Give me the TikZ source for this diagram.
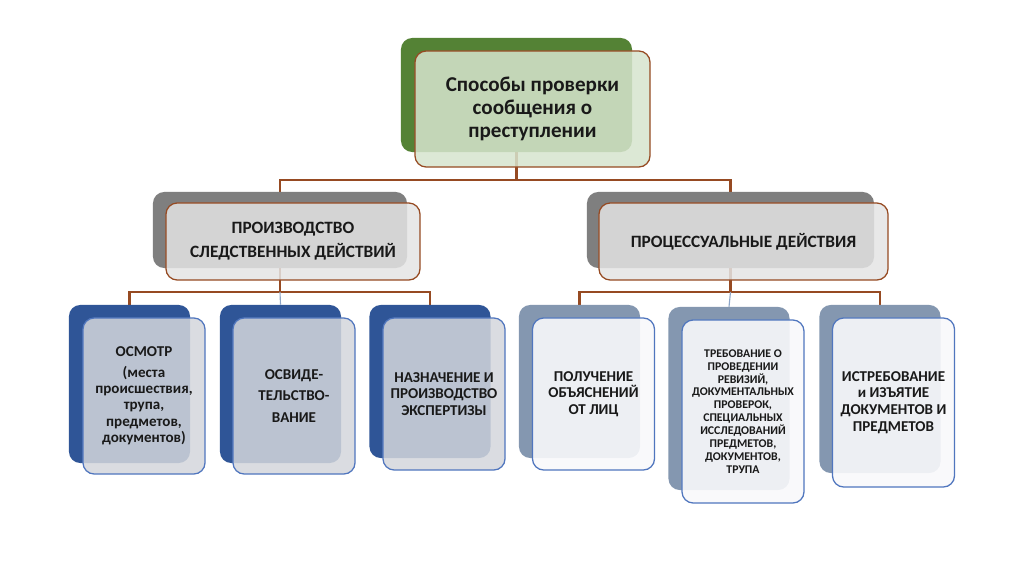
\documentclass[tikz,border=0pt]{standalone}
\usepackage{fontspec}
\setmainfont{Carlito}
\definecolor{leafgreen}{RGB}{84,130,53}
\definecolor{leaffill}{RGB}{215,229,206}
\definecolor{stonegray}{RGB}{127,127,127}
\definecolor{stonefill}{RGB}{228,228,228}
\definecolor{navyback}{RGB}{47,85,151}
\definecolor{navyfill}{RGB}{212,215,220}
\definecolor{slateback}{RGB}{132,151,176}
\definecolor{slatefill}{RGB}{249,249,251}
\definecolor{rustline}{RGB}{150,74,34}
\definecolor{blueline}{RGB}{80,118,190}
\definecolor{paleline}{RGB}{140,165,200}
\pgfdeclarelayer{links}
\pgfdeclarelayer{backs}
\pgfsetlayers{links,backs,main}
\begin{document}
\begin{tikzpicture}[x=0.025cm,y=-0.025cm,
  back/.style={rounded corners=8pt,inner sep=0pt},
  front/.style={draw,rounded corners=8pt,line width=0.9pt,align=center,font=\bfseries,text=black!90,text opacity=1,inner sep=2pt},
  kid/.style={front,draw=blueline,minimum width=3.05cm},
  kidback/.style={back,minimum width=3.025cm},
  link/.style={draw=rustline,line width=1.6pt},
  midlink/.style={draw=paleline,line width=0.8pt}]
\begin{pgfonlayer}{links}
\fill[white] (0,0) rectangle (1024,574);
\end{pgfonlayer}
\useasboundingbox (0,0) rectangle (1024,574);

\begin{pgfonlayer}{backs}
\node[back,fill=leafgreen,minimum width=5.775cm,minimum height=2.85cm] (topb) at (516.5,95) {};
\node[back,fill=stonegray,minimum width=6.35cm,minimum height=1.9cm] (sdb) at (280,230) {};
\node[back,fill=stonegray,minimum width=7.175cm,minimum height=1.9cm] (pdb) at (730.5,230) {};
\node[kidback,fill=navyback,minimum height=3.95cm] (c1b) at (129.5,384) {};
\node[kidback,fill=navyback,minimum height=3.95cm] (c2b) at (280.5,384) {};
\node[kidback,fill=navyback,minimum height=3.825cm] (c3b) at (430,381.5) {};
\node[kidback,fill=slateback,minimum height=3.825cm] (c4b) at (579.5,381.5) {};
\node[kidback,fill=slateback,minimum height=4.575cm] (c5b) at (729,398.5) {};
\node[kidback,fill=slateback,minimum height=4.2cm] (c6b) at (880,389) {};
\end{pgfonlayer}

\node[front,draw=rustline,fill=leaffill,fill opacity=0.85,minimum width=5.875cm,minimum height=2.9cm,font=\fontsize{15}{16.2}\selectfont\bfseries] (top) at (532.5,109) {Способы проверки\\сообщения о\\преступлении};
\node[front,draw=rustline,fill=stonefill,fill opacity=0.85,minimum width=6.35cm,minimum height=1.925cm,font=\fontsize{12.3}{17}\selectfont\bfseries] (sd) at (293,241.5) {ПРОИЗВОДСТВО\\СЛЕДСТВЕННЫХ ДЕЙСТВИЙ};
\node[front,draw=rustline,fill=stonefill,fill opacity=0.85,minimum width=7.225cm,minimum height=1.925cm,font=\fontsize{12.3}{17}\selectfont\bfseries] (pd) at (743.5,241.5) {ПРОЦЕССУАЛЬНЫЕ ДЕЙСТВИЯ};

\node[kid,fill=navyfill,fill opacity=0.85,minimum height=3.9cm,font=\fontsize{10.7}{11.6}\selectfont\bfseries] (c1) at (144,396) {ОСМОТР\\[3pt](места\\происшествия,\\трупа,\\предметов,\\документов)};
\node[kid,fill=navyfill,fill opacity=0.85,minimum height=3.9cm,font=\fontsize{10.7}{15.5}\selectfont\bfseries] (c2) at (294,396) {ОСВИДЕ-\\ТЕЛЬСТВО-\\ВАНИЕ};
\node[kid,fill=navyfill,fill opacity=0.85,minimum height=3.8cm,font=\fontsize{10.7}{11.6}\selectfont\bfseries] (c3) at (444,394) {НАЗНАЧЕНИЕ И\\ПРОИЗВОДСТВО\\ЭКСПЕРТИЗЫ};
\node[kid,fill=slatefill,fill opacity=0.9,minimum height=3.8cm,font=\fontsize{10.7}{11.6}\selectfont\bfseries] (c4) at (593.5,394) {ПОЛУЧЕНИЕ\\ОБЪЯСНЕНИЙ\\ОТ ЛИЦ};
\node[kid,fill=slatefill,fill opacity=0.9,minimum height=4.575cm,font=\fontsize{8.4}{9.2}\selectfont\bfseries] (c5) at (743,411.5) {ТРЕБОВАНИЕ О\\ПРОВЕДЕНИИ\\РЕВИЗИЙ,\\ДОКУМЕНТАЛЬНЫХ\\ПРОВЕРОК,\\СПЕЦИАЛЬНЫХ\\ИССЛЕДОВАНИЙ\\ПРЕДМЕТОВ,\\ДОКУМЕНТОВ,\\ТРУПА};
\node[kid,fill=slatefill,fill opacity=0.9,minimum height=4.225cm,font=\fontsize{10.7}{11.8}\selectfont\bfseries] (c6) at (893.5,402.5) {ИСТРЕБОВАНИЕ\\и ИЗЪЯТИЕ\\ДОКУМЕНТОВ И\\ПРЕДМЕТОВ};

\begin{pgfonlayer}{links}
\draw[link] (topb.center) -- ++(0,85) coordinate (toph);
\draw[link] (sdb.north) |- (toph) -| (pdb.north);
\draw[link] (sdb.center) -- ++(0,62) coordinate (sdh);
\draw[link] (c1b.north) |- (sdh) -| (c3b.north);
\draw[midlink] (sdh) -- (c2b.north);
\draw[link] (pdb.center) -- ++(0,62) coordinate (pdh);
\draw[link] (c4b.north) |- (pdh) -| (c6b.north);
\draw[midlink] (pdh) -- (c5b.north);
\end{pgfonlayer}
\end{tikzpicture}
\end{document}
